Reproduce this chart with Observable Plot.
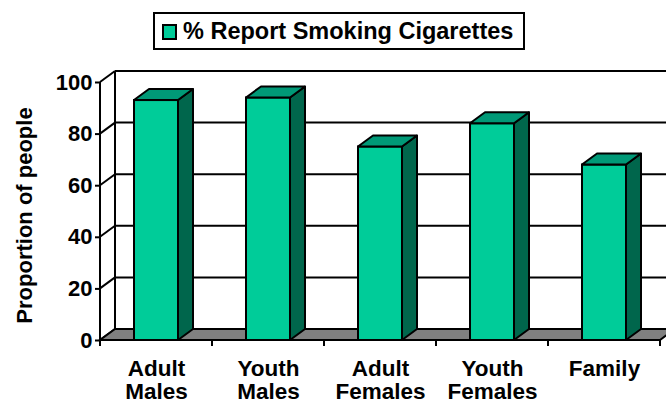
<!DOCTYPE html>
<html><head><meta charset="utf-8">
<script src="https://cdn.jsdelivr.net/npm/d3@7"></script>
<script src="https://cdn.jsdelivr.net/npm/@observablehq/plot@0.6"></script>
<style>
body{margin:0;background:#fff;}
#wrap{position:relative;width:666px;height:411px;overflow:hidden;font-family:"Liberation Sans",Arial,sans-serif;background:#fff;}
#legend{position:absolute;left:153px;top:12px;width:372px;height:38px;box-sizing:border-box;border:2px solid #000;background:#fff;display:flex;align-items:center;white-space:nowrap;}
#legend .sw{flex:none;width:15px;height:16px;box-sizing:border-box;border:2px solid #000;background:#00CC99;margin-left:7px;margin-right:6px;margin-top:1px;}
#legend .tx{flex:none;font-weight:bold;font-size:23.5px;line-height:1;color:#000;margin-top:1px;}
</style></head>
<body>
<div id="wrap"><div id="chart"></div>
<div id="legend"><div class="sw"></div><div class="tx">% Report Smoking Cigarettes</div></div>
</div>
<script>
const categories = ["Adult Males", "Youth Males", "Adult Females", "Youth Females", "Family"];
const values = [93, 94, 75, 84, 68];
const yTicks = [0, 20, 40, 60, 80, 100];
const seriesName = "% Report Smoking Cigarettes";
const yTitle = "Proportion of people";

const rows = categories.map((c, i) => ({category: c, value: values[i]}));
const DX = 15, DY = 11;
const FRONT = "#00CC99", TOP = "#009977", SIDE = "#00664C", FLOOR = "#808080";

const poly = pts => "M" + pts.map(p => p.join(",")).join("L") + "Z";

function walls(index, scales, values_, dims) {
  const {x, y} = scales;
  const [x0, x1] = x.range();
  const g = d3.create("svg:g").attr("stroke", "#000").attr("stroke-width", 2).attr("fill", "none");
  const yb = y(0), yt = y(100);
  for (const t of yTicks) {
    g.append("line").attr("x1", x0 + DX).attr("x2", dims.width + 20)
      .attr("y1", y(t) - DY).attr("y2", y(t) - DY);
  }
  g.append("line").attr("x1", x0 + DX).attr("x2", x0 + DX).attr("y1", yt - DY).attr("y2", yb - DY);
  for (const t of yTicks) {
    g.append("line").attr("x1", x0).attr("x2", x0 + DX).attr("y1", y(t)).attr("y2", y(t) - DY);
  }
  g.append("line").attr("x1", x0).attr("x2", x0).attr("y1", yt).attr("y2", yb);
  g.append("path").attr("fill", FLOOR)
    .attr("d", poly([[x0, yb], [x1, yb], [x1 + DX, yb - DY], [x0 + DX, yb - DY]]));
  const step = x.step(), bw = x.bandwidth();
  const bounds = categories.map(c => x(c) - (step - bw) / 2);
  bounds.push(x(categories[categories.length - 1]) + bw + (step - bw) / 2);
  for (const b of bounds) {
    g.append("line").attr("x1", b).attr("x2", b).attr("y1", yb).attr("y2", yb + 6);
  }
  return g.node();
}

function faces(index, scales) {
  const {x, y} = scales;
  const bw = x.bandwidth();
  const g = d3.create("svg:g").attr("stroke", "#000").attr("stroke-width", 2).attr("stroke-linejoin", "round");
  rows.forEach(r => {
    const xl = x(r.category), xr = xl + bw, yt = y(r.value), yb = y(0);
    g.append("path").attr("fill", SIDE)
      .attr("d", poly([[xr, yt], [xr + DX, yt - DY], [xr + DX, yb - DY], [xr, yb]]));
    g.append("path").attr("fill", TOP)
      .attr("d", poly([[xl, yt], [xr, yt], [xr + DX, yt - DY], [xl + DX, yt - DY]]));
  });
  return g.node();
}

const chart = Plot.plot({
  width: 666,
  height: 411,
  marginLeft: 100,
  marginRight: 6,
  marginTop: 82,
  marginBottom: 71,
  style: {fontFamily: '"Liberation Sans", Arial, sans-serif', fontWeight: "bold", color: "#000", background: "transparent"},
  x: {domain: categories, paddingInner: 0.607, paddingOuter: 0.3035, label: null},
  y: {domain: [0, 100], label: null},
  marks: [
    walls,
    Plot.barY(rows, {x: "category", y: "value", fill: FRONT, stroke: "#000", strokeWidth: 2}),
    faces,
    Plot.axisY({ticks: yTicks, tickSize: 5, tickPadding: 3, fontSize: 22, strokeWidth: 2, label: null}),
    Plot.axisX({tickSize: 0, tickPadding: 19, fontSize: 22.5, lineHeight: 1.02, label: null,
      tickFormat: d => d.replace(" ", "\n")}),
    Plot.text([yTitle], {frameAnchor: "left", textAnchor: "middle", rotate: -90, dx: -76, dy: 4, fontSize: 22, fontWeight: "bold", fill: "#000"})
  ]
});
document.getElementById("chart").appendChild(chart);
</script>
</body></html>
